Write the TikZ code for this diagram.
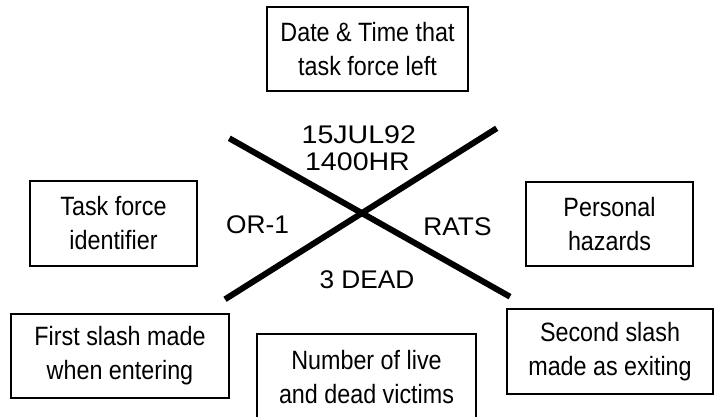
\documentclass[tikz,border=0pt]{standalone}
\usepackage{fontspec}
\newfontfamily\boxfont[FakeStretch=0.88]{Liberation Sans}
\newfontfamily\labfont[FakeStretch=1.03]{Liberation Sans}
\newfontfamily\datefont[FakeStretch=1.12]{Liberation Sans}
\begin{document}
\begin{tikzpicture}[x=1pt,y=-1pt,
  bx/.style={draw, line width=1.3pt, inner sep=0pt, align=center,
    font=\boxfont\fontsize{26.5}{34}\selectfont},
  lab/.style={inner sep=0pt, anchor=base, font=\labfont\fontsize{25.5}{26.7}\selectfont},
  datelab/.style={lab, font=\datefont\fontsize{25.5}{26.7}\selectfont},
  slash/.style={line width=6pt}]
\useasboundingbox (0,0) rectangle (714,417);
\fill[white] (0,0) rectangle (714,417);

% boxes
\node[bx, minimum width=201pt, minimum height=84pt] (top) at (367.5,49) {Date \& Time that\\task force left};
\node[bx, minimum width=167pt, minimum height=85pt] (task) at (113.5,223.5) {Task force\\identifier};
\node[bx, minimum width=167pt, minimum height=84pt] (pers) at (609.5,224) {Personal\\hazards};
\node[bx, minimum width=218pt, minimum height=84pt] (first) at (120,356) {First slash made\\when entering};
\node[bx, minimum width=206pt, minimum height=85pt] (second) at (610,351.5) {Second slash\\made as exiting};
\node[bx, minimum width=219pt, minimum height=86pt] (number) at (366.5,377) {Number of live\\and dead victims};

% the X
\coordinate (s1a) at (229.3,138.3);
\coordinate (s1b) at (510,296.7);
\coordinate (s2a) at (496.7,128.3);
\coordinate (s2b) at (225,299.3);
\draw[slash] (s1a) -- (s1b);
\draw[slash] (s2a) -- (s2b);

% labels
\node[datelab] (date) at (358.8,143.3) {15JUL92};
\node[datelab] (time) at (357.5,170) {1400HR};
\node[lab] (tf) at (257.5,233.3) {OR-1};
\node[lab] (haz) at (457.5,235) {RATS};
\node[lab] (vic) at (367,288.3) {3 DEAD};
\end{tikzpicture}
\end{document}
